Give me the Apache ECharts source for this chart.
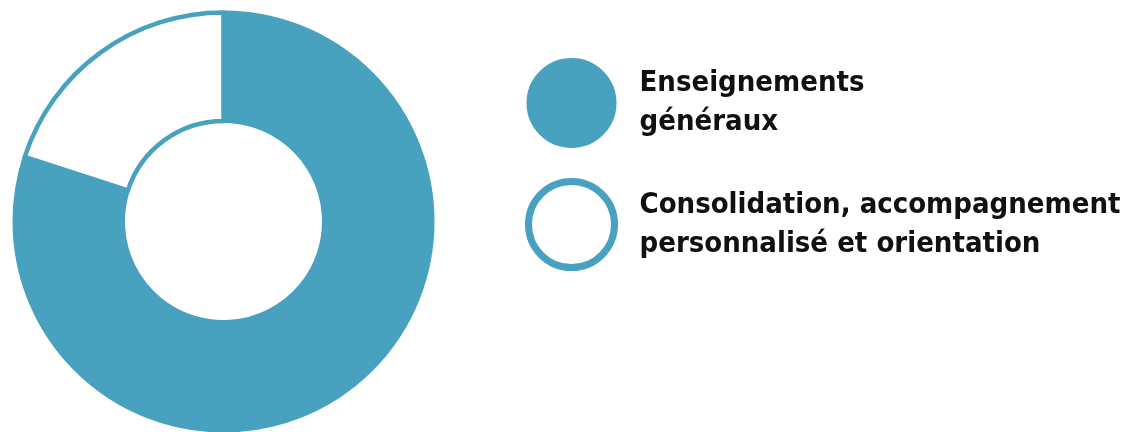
<!DOCTYPE html>
<html><head><meta charset="utf-8">
<script src="https://cdn.jsdelivr.net/npm/echarts@6/dist/echarts.min.js"></script>
<style>html,body{margin:0;padding:0;background:#fff}#c{width:1134px;height:432px}</style>
</head><body><div id="c"></div>
<script>
const categories = ['Enseignements\ngénéraux', 'Consolidation, accompagnement\npersonnalisé et orientation'];
const values = [80, 20];
const BLUE = '#48a1bf';

const chart = echarts.init(document.getElementById('c'), null, {renderer: 'canvas'});
chart.setOption({
  animation: false,
  legend: {
    orient: 'vertical',
    left: 520,
    top: 52,
    itemWidth: 86,
    itemHeight: 86,
    itemGap: 29,
    icon: 'circle',
    textStyle: {
      fontFamily: '"DejaVu Sans Condensed", "DejaVu Sans", sans-serif',
      fontWeight: 'bold',
      fontSize: 29,
      lineHeight: 39,
      color: '#111',
      padding: [14, 0, 0, 20]
    },
    data: [
      {name: categories[0], itemStyle: {color: BLUE, borderColor: BLUE, borderWidth: 4}},
      {name: categories[1], itemStyle: {color: '#fff', borderColor: BLUE, borderWidth: 7}}
    ]
  },
  series: [{
    type: 'pie',
    center: [223.5, 221.5],
    radius: [100.5, 209],
    startAngle: 90,
    clockwise: true,
    label: {show: false},
    labelLine: {show: false},
    emphasis: {disabled: true},
    data: [
      {name: categories[0], value: values[0], itemStyle: {color: BLUE, borderColor: BLUE, borderWidth: 4}},
      {name: categories[1], value: values[1], itemStyle: {color: '#fff', borderColor: BLUE, borderWidth: 4.5}}
    ]
  }]
});
</script></body></html>
